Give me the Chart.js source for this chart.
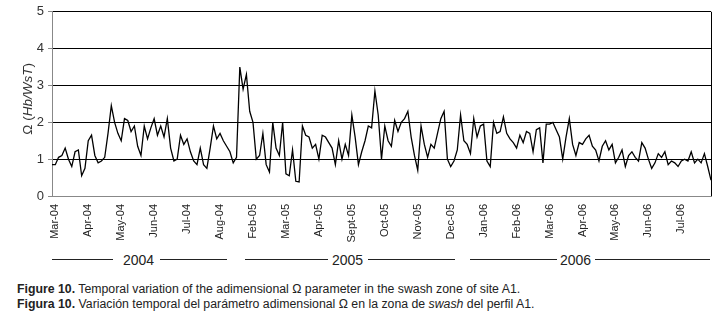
<!DOCTYPE html>
<html>
<head>
<meta charset="utf-8">
<script src="https://cdn.jsdelivr.net/npm/chart.js@4"></script>
<style>
  body { margin: 0; background: #fff; font-family: "Liberation Sans", Arial, sans-serif; }
  #wrap { position: relative; width: 717px; height: 324px; }
  #chart { position: absolute; left: 0; top: 0; }
  .yr { position: absolute; top: 252px; font-size: 14px; color: #222; }
  .yl { position: absolute; top: 259px; height: 0; border-top: 1px solid #222; }
  .cap { position: absolute; left: 17px; font-size: 12.3px; color: #222; white-space: nowrap; }
</style>
</head>
<body>
<div id="wrap">
  <canvas id="chart" width="717" height="250"></canvas>

  <div class="yl" style="left:52px;width:61px"></div>
  <div class="yr" style="left:123px">2004</div>
  <div class="yl" style="left:160px;width:67px"></div>
  <div class="yl" style="left:245px;width:83px"></div>
  <div class="yr" style="left:332px">2005</div>
  <div class="yl" style="left:368px;width:87px"></div>
  <div class="yl" style="left:470px;width:87px"></div>
  <div class="yr" style="left:560px">2006</div>
  <div class="yl" style="left:595px;width:115px"></div>

  <div class="cap" style="top:282px"><b>Figure 10.</b> Temporal variation of the adimensional &Omega; parameter in the swash zone of site A1.</div>
  <div class="cap" style="top:297px"><b>Figura 10.</b> Variación temporal del parámetro adimensional &Omega; en la zona de <i>swash</i> del perfil A1.</div>
</div>

<script>
// month tick labels (one per tick, evenly spaced)
const monthLabels = ["Mar-04", "Apr-04", "May-04", "Jun-04", "Jul-04", "Aug-04",
  "Feb-05", "Mar-05", "Apr-05", "Sept-05", "Oct-05", "Nov-05", "Dec-05",
  "Jan-06", "Feb-06", "Mar-06", "Apr-06", "May-06", "Jun-06", "Jul-06"];
const yTicks = [0, 1, 2, 3, 4, 5];

// omega series, every 0.1 month-tick starting at -0.1
const omegaStart = -0.1;
const omegaStep = 0.1;
const omega = [
  0.85, 0.85, 1.05, 1.1, 1.3, 1.0, 0.8, 1.2, 1.25, 0.55,
  0.75, 1.5, 1.65, 1.1, 0.9, 0.95, 1.05, 1.7, 2.45, 2.0,
  1.7, 1.5, 2.1, 2.05, 1.75, 1.9, 1.35, 1.1, 1.9, 1.55,
  1.85, 2.1, 1.65, 1.9, 1.6, 2.1, 1.3, 0.95, 1.0, 1.65,
  1.4, 1.55, 1.2, 0.95, 0.85, 1.3, 0.85, 0.75, 1.3, 1.9,
  1.55, 1.7, 1.5, 1.35, 1.2, 0.9, 1.05, 3.5, 2.9, 3.3,
  2.3, 2.0, 1.0, 1.1, 1.7, 0.85, 0.65, 2.0, 1.3, 1.1,
  2.0, 0.6, 0.55, 1.25, 0.4, 0.38, 1.9, 1.65, 1.6, 1.3,
  1.4, 1.0, 1.65, 1.6, 1.45, 1.3, 0.85, 1.5, 1.0, 1.4,
  1.1, 2.2, 1.6, 0.85, 1.2, 1.5, 1.9, 1.85, 2.85, 2.2,
  1.0, 1.9, 1.5, 1.35, 2.05, 1.75, 2.0, 2.1, 2.3, 1.6,
  1.1, 0.7, 1.9, 1.4, 1.05, 1.4, 1.3, 1.7, 2.1, 2.3,
  1.0, 0.8, 0.95, 1.25, 2.2, 1.5, 1.4, 1.15, 2.1, 1.6,
  1.9, 1.95, 0.95, 0.8, 2.0, 1.7, 1.75, 2.15, 1.7, 1.55,
  1.45, 1.3, 1.65, 1.45, 1.75, 1.7, 1.2, 1.8, 1.85, 0.9,
  1.95, 1.95, 2.0, 1.8, 1.6, 1.0, 1.6, 2.1, 1.4, 1.1,
  1.45, 1.4, 1.55, 1.65, 1.35, 1.25, 0.95, 1.35, 1.5, 1.25,
  1.4, 0.9, 1.05, 1.25, 0.8, 1.1, 1.2, 1.05, 0.95, 1.45,
  1.3, 1.0, 0.75, 0.9, 1.15, 1.05, 1.2, 0.85, 0.95, 0.9,
  0.8, 0.95, 1.0, 0.95, 1.2, 0.9, 1.0, 0.9, 1.15, 0.8,
  0.43
];

const points = omega.map((v, i) => ({ x: omegaStart + i * omegaStep, y: v }));

// right frame line + mixed-style y title
const framePlugin = {
  id: "frame",
  afterDraw(chart) {
    const { ctx, chartArea } = chart;
    ctx.save();
    ctx.strokeStyle = "#000";
    ctx.lineWidth = 1;
    ctx.beginPath();
    ctx.moveTo(chartArea.right + 0.5, chartArea.top);
    ctx.lineTo(chartArea.right + 0.5, chartArea.bottom);
    ctx.stroke();

    // y axis title: "Ω (" + italic "Hb/WsT" + ")"
    const parts = [
      { t: "\u03A9 (", f: "13.5px 'Liberation Sans', Arial" },
      { t: "Hb/WsT", f: "italic 13.5px 'Liberation Sans', Arial" },
      { t: ")", f: "13.5px 'Liberation Sans', Arial" }
    ];
    let total = 0;
    parts.forEach((p) => { ctx.font = p.f; total += ctx.measureText(p.t).width; });
    ctx.translate(28, (chartArea.top + chartArea.bottom) / 2 - 5);
    ctx.rotate(-Math.PI / 2);
    ctx.fillStyle = "#333";
    ctx.textBaseline = "middle";
    let x = -total / 2;
    parts.forEach((p) => {
      ctx.font = p.f;
      ctx.fillText(p.t, x, 0);
      x += ctx.measureText(p.t).width;
    });
    ctx.restore();
  }
};

new Chart(document.getElementById("chart"), {
  type: "line",
  data: {
    datasets: [{
      data: points,
      borderColor: "#000",
      borderWidth: 1.3,
      pointRadius: 0,
      tension: 0,
      fill: false
    }]
  },
  options: {
    responsive: false,
    animation: false,
    layout: { padding: { top: 10, right: 6, left: 0, bottom: 0 } },
    plugins: { legend: { display: false }, tooltip: { enabled: false } },
    scales: {
      x: {
        type: "linear",
        min: -0.1,
        max: 19.9,
        afterBuildTicks: (scale) => {
          scale.ticks = monthLabels.map((_, i) => ({ value: i }));
        },
        afterFit: (scale) => { scale.height = 54; },
        border: { color: "#888", width: 1 },
        grid: { drawOnChartArea: false, drawTicks: false },
        ticks: {
          autoSkip: false,
          maxRotation: 90,
          minRotation: 90,
          padding: 8,
          color: "#222",
          font: { family: "'Liberation Sans', Arial", size: 11 },
          callback: (v) => monthLabels[Math.round(v)]
        }
      },
      y: {
        min: 0,
        max: 5,
        afterBuildTicks: (scale) => {
          scale.ticks = yTicks.map((v) => ({ value: v }));
        },
        afterFit: (scale) => { scale.width = 52; },
        border: { color: "#888", width: 1 },
        grid: {
          color: (c) => (c.tick && c.tick.value === 0 ? "rgba(0,0,0,0)" : "#000"),
          tickColor: "#888",
          tickLength: 4,
          lineWidth: 1
        },
        ticks: {
          padding: 4,
          color: "#333",
          font: { family: "'Liberation Sans', Arial", size: 13 }
        }
      }
    }
  },
  plugins: [framePlugin]
});
</script>
</body>
</html>
